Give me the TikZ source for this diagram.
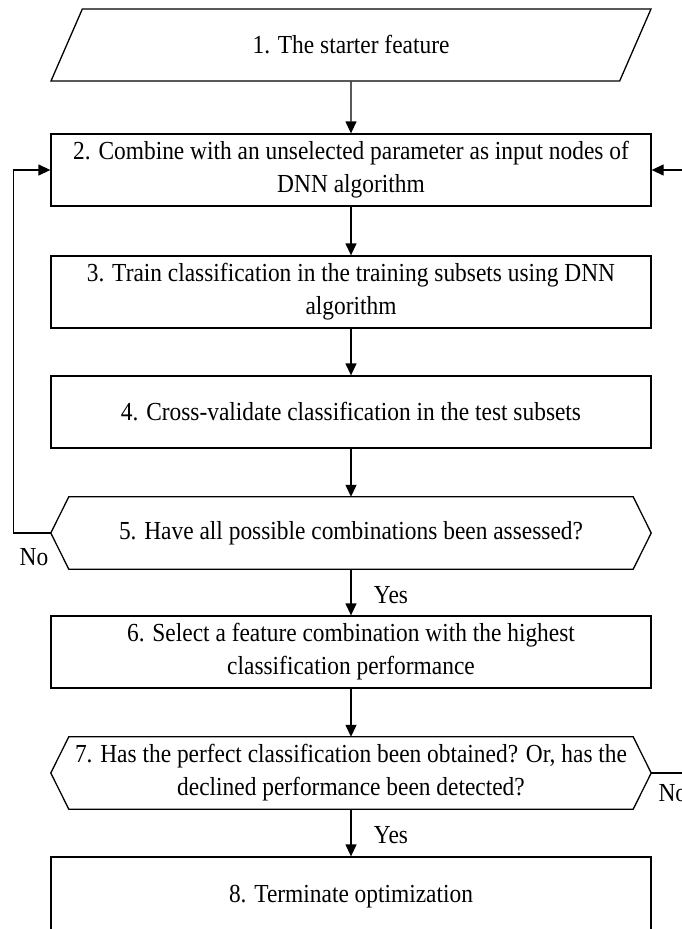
\documentclass[tikz,border=0pt]{standalone}
\usepackage{fontspec}
\setmainfont{Liberation Serif}[FakeStretch=0.9]
\usetikzlibrary{arrows.meta}
\usetikzlibrary{positioning}
\usetikzlibrary{shapes.geometric}

\tikzset{
  stepbox/.style={draw,rectangle,line width=1.3pt,minimum width=600pt,minimum height=72pt,inner sep=0pt,align=center},
  decision/.style={rectangle,minimum width=600pt,minimum height=72pt,inner sep=0pt,align=center},
  arr/.style={line width=1.3pt,-{Triangle[length=12pt,width=11pt]}},
  lbl/.style={font=\fontsize{26}{33}\selectfont}
}
% hexagon frame round a decision node
\newcommand{\decisionframe}[1]{%
\draw[line width=1.3pt] (#1.west) -- ([xshift=18pt]#1.north west) -- ([xshift=-18pt]#1.north east)
  -- (#1.east) -- ([xshift=-18pt]#1.south east) -- ([xshift=18pt]#1.south west) -- cycle;}

\begin{document}
\begin{tikzpicture}[x=1pt,y=-1pt,font=\fontsize{26}{33}\selectfont]
\useasboundingbox (0,0) rectangle (681,929);

\node[draw,trapezium,trapezium left angle=30.8,trapezium right angle=149.2,trapezium stretches body,line width=1.3pt,minimum width=600pt,minimum height=72pt,inner sep=0pt] (s1) at (351,45) {1. The starter feature};
\node[stepbox] (s2) at (351,170) {2. Combine with an unselected parameter as input nodes of\\DNN algorithm};
\node[stepbox] (s3) at (351,292) {3. Train classification in the training subsets using DNN\\algorithm};
\node[stepbox] (s4) at (351,412) {4. Cross-validate classification in the test subsets};
\node[decision] (s5) at (351,533) {5. Have all possible combinations been assessed?};
\decisionframe{s5}
\node[stepbox] (s6) at (351,652) {6. Select a feature combination with the highest\\classification performance};
\node[decision] (s7) at (351,773) {7. Has the perfect classification been obtained? Or, has the\\declined performance been detected?};
\decisionframe{s7}
\node[stepbox,minimum height=80pt] (s8) at (351,897) {8. Terminate optimization};

\draw[arr] (s1.south) -- (s2.north);
\draw[arr] (s2) -- (s3);
\draw[arr] (s3) -- (s4);
\draw[arr] (s4) -- (s5);
\draw[arr] (s5) -- (s6);
\draw[arr] (s6) -- (s7);
\draw[arr] (s7) -- (s8);

% loops back to step 2
\draw[arr] (s5.west) -- ++(-37,0) |- (s2.west);
\draw[arr] (s7.east) -- ++(40,0) |- (s2.east);

\node[lbl] (no1) at (34,557) {No};
\node[lbl,anchor=west] (no2) at (655,793) {No};
\node[lbl] (yes1) at (391,595) {Yes};
\node[lbl] (yes2) at (391,835) {Yes};

\end{tikzpicture}
\end{document}
